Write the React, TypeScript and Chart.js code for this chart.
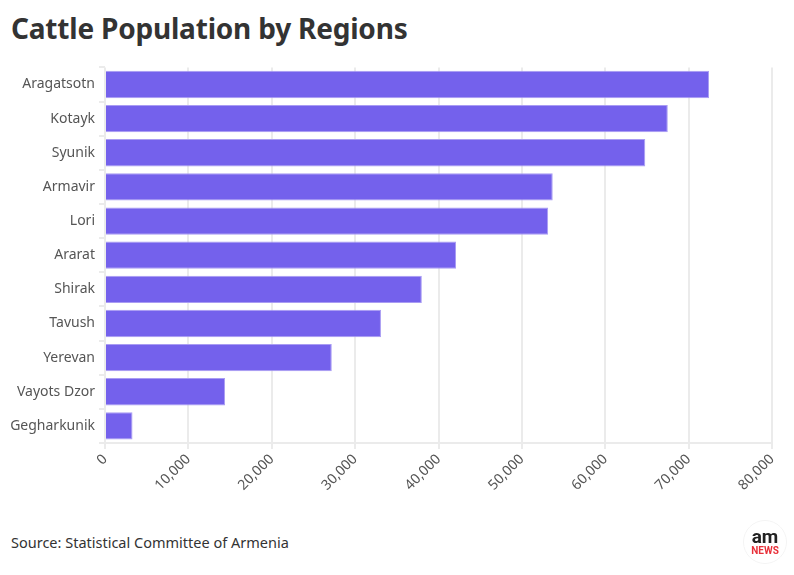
import React, { useEffect, useRef } from "react";
import { Chart, registerables } from "chart.js";

Chart.register(...registerables);

const categories = [
  "Aragatsotn",
  "Kotayk",
  "Syunik",
  "Armavir",
  "Lori",
  "Ararat",
  "Shirak",
  "Tavush",
  "Yerevan",
  "Vayots Dzor",
  "Gegharkunik",
];

const cattle = [72450, 67500, 64800, 53700, 53150, 42100, 38000, 33100, 27200, 14400, 3300];

const xTicks = [0, 10000, 20000, 30000, 40000, 50000, 60000, 70000, 80000];

const FONT = "'Noto Sans', sans-serif";

export default function App() {
  const ref = useRef<HTMLCanvasElement | null>(null);

  useEffect(() => {
    document.body.style.margin = "0";
    if (!ref.current) return;
    const chart = new Chart(ref.current, {
      type: "bar",
      data: {
        labels: categories,
        datasets: [
          {
            label: "Cattle",
            data: cattle,
            backgroundColor: "#7461ec",
            borderColor: "#a99cf3",
            borderWidth: 1,
            categoryPercentage: 1,
            barPercentage: 0.8,
          },
        ],
      },
      options: {
        indexAxis: "y",
        animation: false,
        responsive: false,
        maintainAspectRatio: false,
        layout: { padding: { top: 11, right: 22, left: 0, bottom: 0 } },
        plugins: {
          legend: { display: false },
          tooltip: { enabled: false },
        },
        scales: {
          x: {
            min: 0,
            max: 80000,
            afterBuildTicks: (scale: any) => {
              scale.ticks = xTicks.map((v) => ({ value: v }));
            },
            afterFit: (scale: any) => {
              scale.height = 82;
            },
            ticks: {
              minRotation: 45,
              maxRotation: 45,
              color: "#555",
              font: { family: FONT, size: 14 },
              padding: 2,
              callback: (v: any) => Number(v).toLocaleString("en-US"),
            },
            grid: {
              color: "#ebebeb",
              lineWidth: 2,
              tickLength: 6,
              tickColor: "#ebebeb",
            },
            border: { color: "#ebebeb", width: 2 },
          },
          y: {
            afterFit: (scale: any) => {
              scale.width = 105;
            },
            ticks: {
              color: "#555",
              font: { family: FONT, size: 14 },
              padding: 4,
            },
            grid: {
              drawOnChartArea: false,
              tickLength: 6,
              tickColor: "#ebebeb",
              lineWidth: 2,
            },
            border: { display: false },
          },
        },
      },
    });
    return () => chart.destroy();
  }, []);

  return (
    <div
      style={{
        position: "absolute",
        left: 0,
        top: 0,
        width: 794,
        height: 575,
        background: "#fff",
        fontFamily: FONT,
        color: "#333",
      }}
    >
      <div
        style={{
          position: "absolute",
          left: 11,
          top: 9,
          fontSize: 28,
          fontWeight: 700,
          color: "#333",
          whiteSpace: "nowrap",
          letterSpacing: -0.2,
        }}
      >
        Cattle Population by Regions
      </div>
      <canvas
        ref={ref}
        width={794}
        height={470}
        style={{ position: "absolute", left: 0, top: 55, width: 794, height: 470 }}
      />
      <div
        style={{
          position: "absolute",
          left: 11,
          top: 532,
          fontSize: 14.5,
          color: "#333",
          whiteSpace: "nowrap",
        }}
      >
        Source: Statistical Committee of Armenia
      </div>
      <div
        style={{
          position: "absolute",
          left: 743,
          top: 520,
          width: 42,
          height: 42,
          borderRadius: "50%",
          border: "1px solid #f4f4f4",
          display: "flex",
          flexDirection: "column",
          alignItems: "center",
          justifyContent: "center",
          lineHeight: 1,
        }}
      >
        <div style={{ fontSize: 19, fontWeight: 700, color: "#222", fontFamily: "'Liberation Sans Narrow', 'Roboto', sans-serif", marginTop: -2 }}>am</div>
        <div style={{ fontSize: 10, fontWeight: 700, color: "#e8313a", fontFamily: "'Liberation Sans Narrow', 'Roboto', sans-serif" }}>NEWS</div>
      </div>
    </div>
  );
}
